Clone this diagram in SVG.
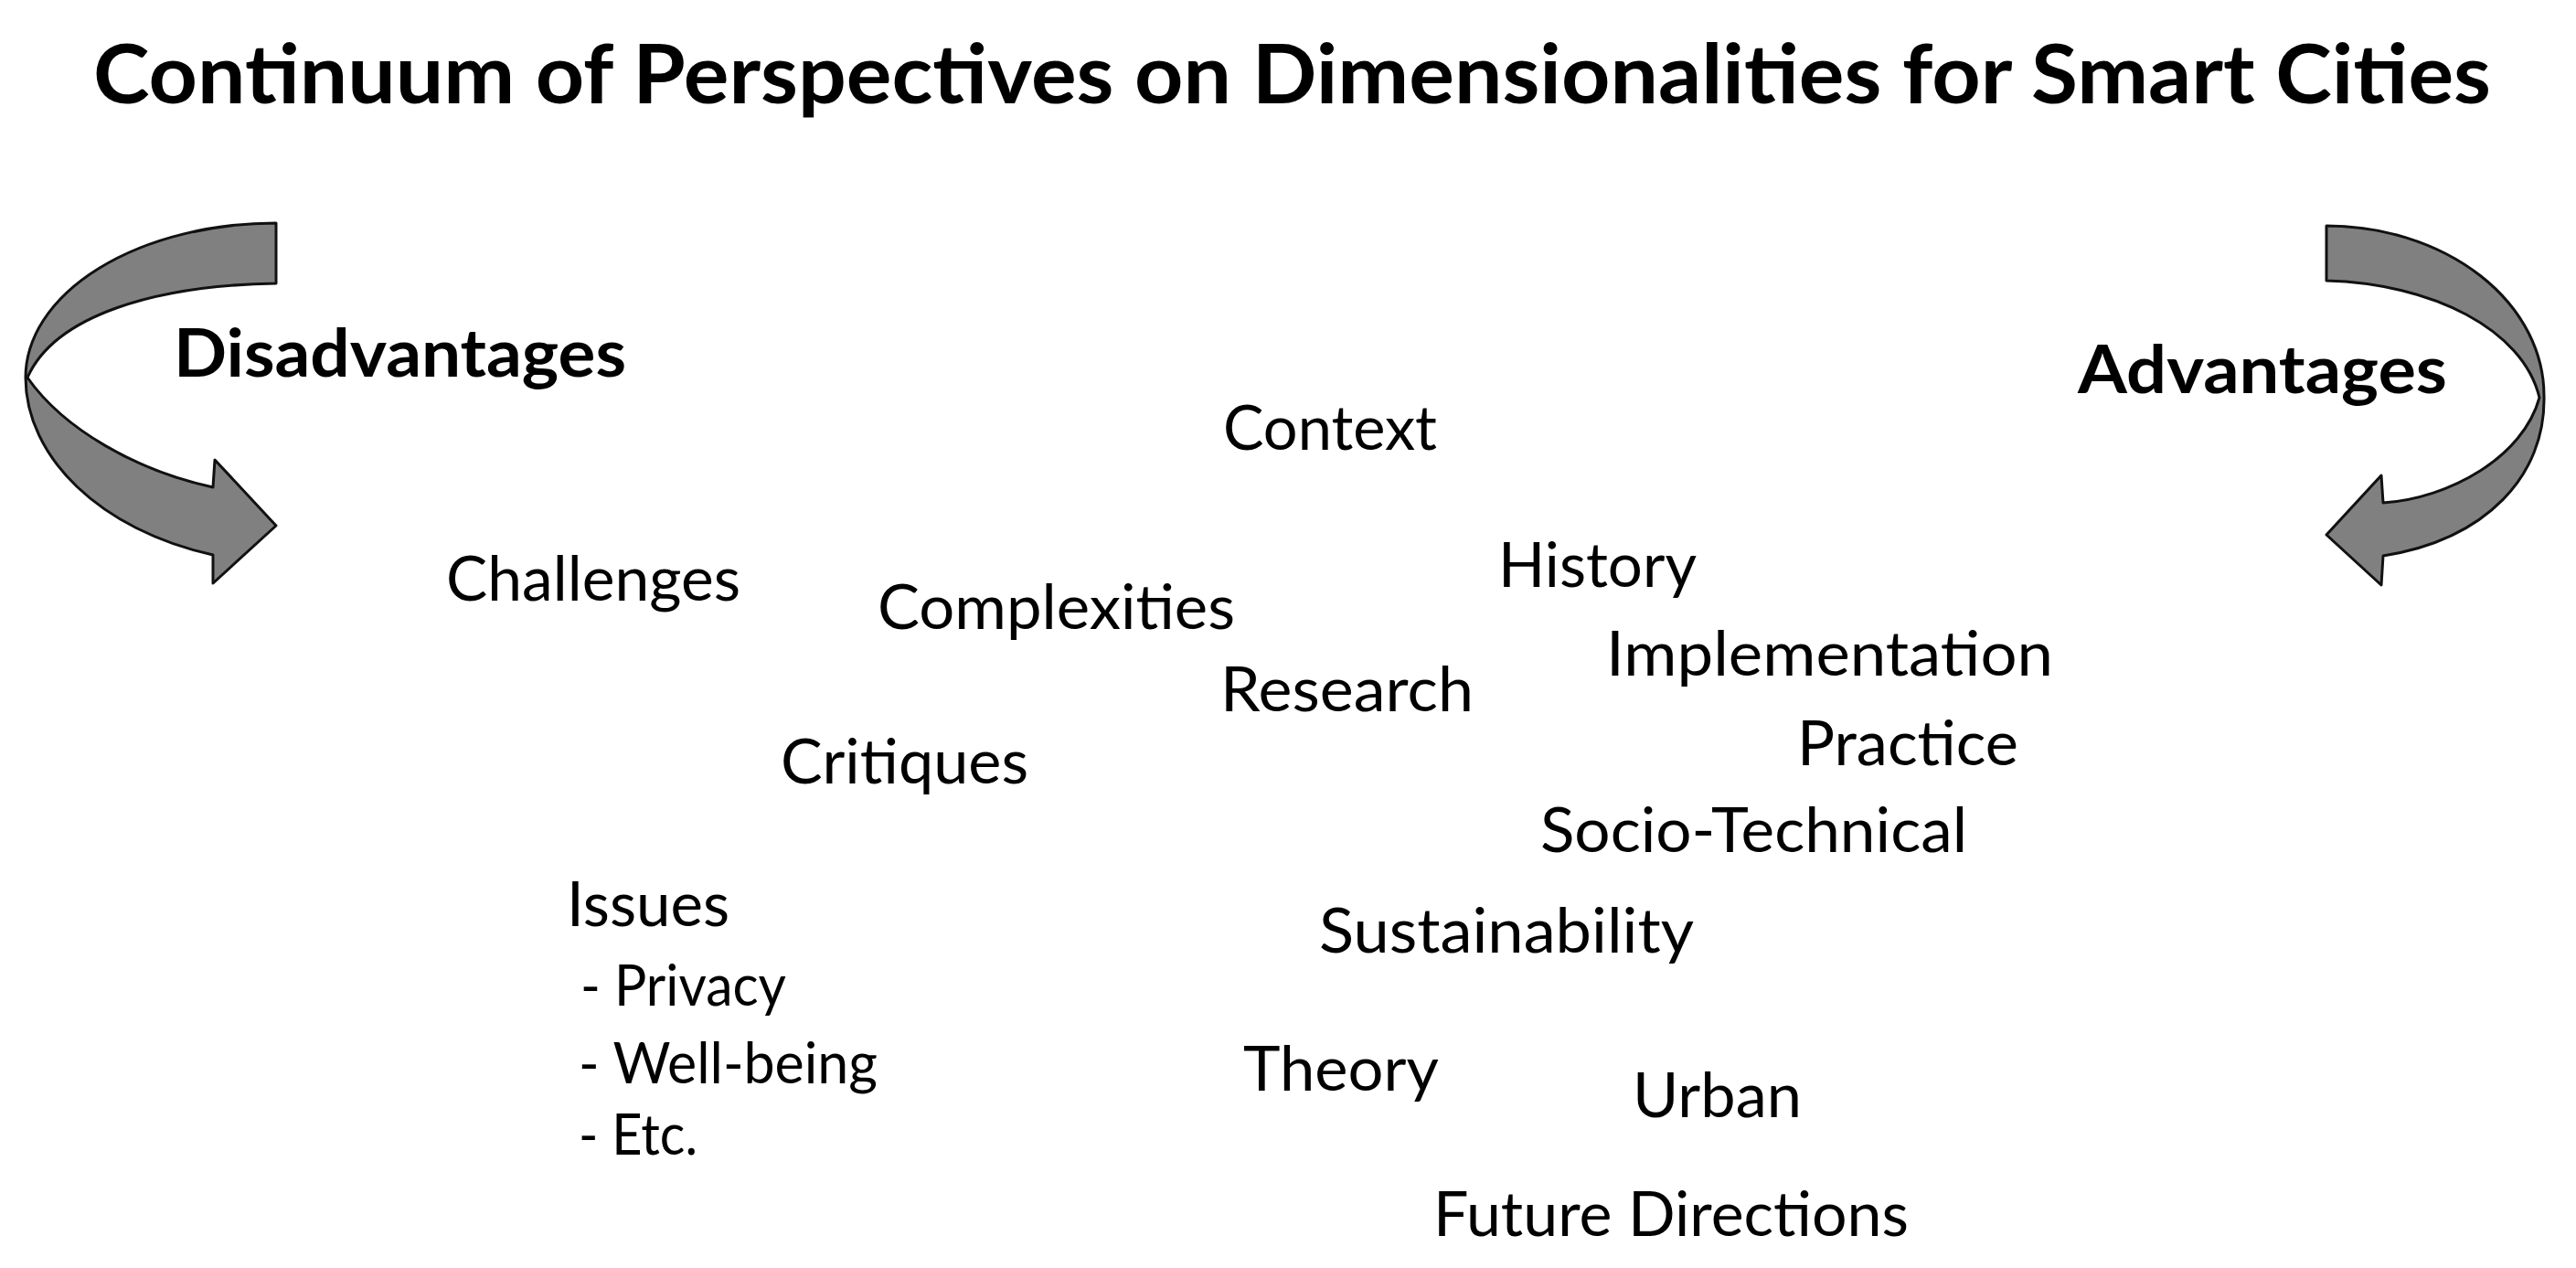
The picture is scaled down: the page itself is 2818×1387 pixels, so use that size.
<svg xmlns="http://www.w3.org/2000/svg" width="2818" height="1387" viewBox="0 0 2818 1387">
<style>
.t{font-family:Lato,"Open Sans","Liberation Sans",sans-serif;fill:#000}
.b{font-weight:bold}
.title{font-size:90px}
.h{font-size:72px}
.m{font-size:67px}
.s{font-size:62px}
.arrow{fill:#808080;stroke:#111;stroke-width:3;stroke-linejoin:round}
</style>
<rect width="2818" height="1387" fill="#fff"/>
<g id="title"><text class="t b title" x="102" y="113" textLength="2623" lengthAdjust="spacingAndGlyphs">Continuum of Perspectives on Dimensionalities for Smart Cities</text></g>
<g id="arrows">
<path id="arrow-left" class="arrow" d="M302,244 A274,169 0 0 0 28,413 C28,500 110,580 233,607 L233,638 L302,575 L235,503 L233,533 C150,515 70,470 30,413 C60,345 170,312 302,310 Z"/>
<path id="arrow-right" class="arrow" d="M2545,247 A238,186 0 0 1 2783,433 C2785,520 2720,590 2607,608 L2605,640 L2545,585 L2605,520 L2607,550 C2680,545 2760,500 2778,435 C2760,360 2660,310 2545,307 Z"/>
</g>
<g id="disadvantages"><text class="t b h" x="190" y="412" textLength="495" lengthAdjust="spacingAndGlyphs">Disadvantages</text></g>
<g id="advantages"><text class="t b h" x="2273" y="430" textLength="404" lengthAdjust="spacingAndGlyphs">Advantages</text></g>
<g id="context"><text class="t m" x="1338" y="492" textLength="234" lengthAdjust="spacingAndGlyphs">Context</text></g>
<g id="challenges"><text class="t m" x="488" y="657" textLength="322" lengthAdjust="spacingAndGlyphs">Challenges</text></g>
<g id="complexities"><text class="t m" x="960" y="688" textLength="391" lengthAdjust="spacingAndGlyphs">Complexities</text></g>
<g id="history"><text class="t m" x="1639" y="642" textLength="217" lengthAdjust="spacingAndGlyphs">History</text></g>
<g id="implementation"><text class="t m" x="1757" y="739" textLength="489" lengthAdjust="spacingAndGlyphs">Implementation</text></g>
<g id="research"><text class="t m" x="1335" y="778" textLength="277" lengthAdjust="spacingAndGlyphs">Research</text></g>
<g id="practice"><text class="t m" x="1966" y="837" textLength="242" lengthAdjust="spacingAndGlyphs">Practice</text></g>
<g id="critiques"><text class="t m" x="854" y="857" textLength="271" lengthAdjust="spacingAndGlyphs">Critiques</text></g>
<g id="socio-technical"><text class="t m" x="1685" y="932" textLength="467" lengthAdjust="spacingAndGlyphs">Socio-Technical</text></g>
<g id="issues">
<text class="t m" x="620" y="1013" textLength="178" lengthAdjust="spacingAndGlyphs">Issues</text>
<text class="t s" x="635" y="1100" textLength="225" lengthAdjust="spacingAndGlyphs">- Privacy</text>
<text class="t s" x="633" y="1185" textLength="327" lengthAdjust="spacingAndGlyphs">- Well-being</text>
<text class="t s" x="633" y="1263" textLength="130" lengthAdjust="spacingAndGlyphs">- Etc.</text>
</g>
<g id="sustainability"><text class="t m" x="1443" y="1042" textLength="410" lengthAdjust="spacingAndGlyphs">Sustainability</text></g>
<g id="theory"><text class="t m" x="1360" y="1193" textLength="214" lengthAdjust="spacingAndGlyphs">Theory</text></g>
<g id="urban"><text class="t m" x="1786" y="1222" textLength="185" lengthAdjust="spacingAndGlyphs">Urban</text></g>
<g id="future-directions"><text class="t m" x="1568" y="1352" textLength="520" lengthAdjust="spacingAndGlyphs">Future Directions</text></g>
</svg>
